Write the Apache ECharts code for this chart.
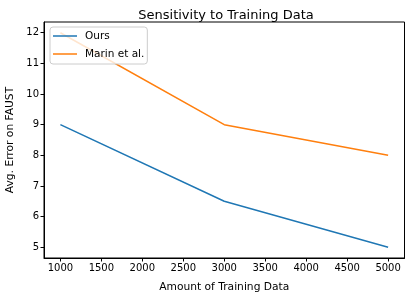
<!DOCTYPE html>
<html><head><meta charset="utf-8">
<script src="https://cdn.jsdelivr.net/npm/echarts@6/dist/echarts.min.js"></script>
<style>html,body{margin:0;padding:0;background:#fff}#c{width:405px;height:292px}</style>
</head><body><div id="c"></div>
<script>
const trainingAmounts = [1000, 3000, 5000];
const oursErrors = [9, 6.5, 5];
const marinErrors = [12, 9, 8];
const xTicks = [1000, 1500, 2000, 2500, 3000, 3500, 4000, 4500, 5000];
const yTicks = [5, 6, 7, 8, 9, 10, 11, 12];

const font = 'DejaVu Sans';
const chart = echarts.init(document.getElementById('c'), null, {renderer: 'canvas'});
chart.setOption({
  animation: false,
  title: {text: 'Sensitivity to Training Data', left: 221, textAlign: 'center', top: 4,
    textStyle: {fontFamily: font, fontSize: 13, fontWeight: 'normal', color: '#000'}},
  grid: {left: 44, right: 0.5, top: 22, bottom: 34, show: true, borderColor: '#000', borderWidth: 1,
    backgroundColor: 'transparent', outerBoundsMode: 'none', containLabel: false},
  legend: {orient: 'vertical', left: 50, top: 27, padding: [2, 3, 3, 3], itemGap: 4,
    itemWidth: 24, itemHeight: 1.5, icon: 'rect', backgroundColor: 'rgba(255,255,255,0.8)', borderColor: '#ccc',
    borderWidth: 1, borderRadius: 3, z: 10,
    textStyle: {fontFamily: font, fontSize: 10.5, color: '#000', padding: [0, 0, 0, 3], lineHeight: 14},
    data: ['Ours', 'Marin et al.']},
  xAxis: {type: 'value', min: 800, max: 5200,
    name: 'Amount of Training Data', nameLocation: 'middle', nameGap: 24,
    nameTextStyle: {fontFamily: font, fontSize: 10.7, color: '#000'},
    axisLine: {show: true, onZero: false, lineStyle: {color: '#000', width: 1}},
    axisTick: {show: true, length: 3.5, customValues: xTicks, lineStyle: {color: '#000'}},
    axisLabel: {customValues: xTicks, formatter: v => String(v), fontFamily: font, fontSize: 10, color: '#000', margin: 5},
    splitLine: {show: false}},
  yAxis: {type: 'value', min: 4.65, max: 12.35,
    name: 'Avg. Error on FAUST', nameLocation: 'middle', nameGap: 26,
    nameTextStyle: {fontFamily: font, fontSize: 10.7, color: '#000'},
    axisLine: {show: true, onZero: false, lineStyle: {color: '#000', width: 1}},
    axisTick: {show: true, length: 3.5, customValues: yTicks, lineStyle: {color: '#000'}},
    axisLabel: {customValues: yTicks, formatter: v => String(v), fontFamily: font, fontSize: 10, color: '#000', margin: 5},
    splitLine: {show: false}},
  series: [
    {name: 'Ours', type: 'line', symbol: 'none', color: '#1f77b4', lineStyle: {width: 1.5},
      data: trainingAmounts.map((x, i) => [x, oursErrors[i]])},
    {name: 'Marin et al.', type: 'line', symbol: 'none', color: '#ff7f0e', lineStyle: {width: 1.5},
      data: trainingAmounts.map((x, i) => [x, marinErrors[i]])}
  ]
});
</script></body></html>
